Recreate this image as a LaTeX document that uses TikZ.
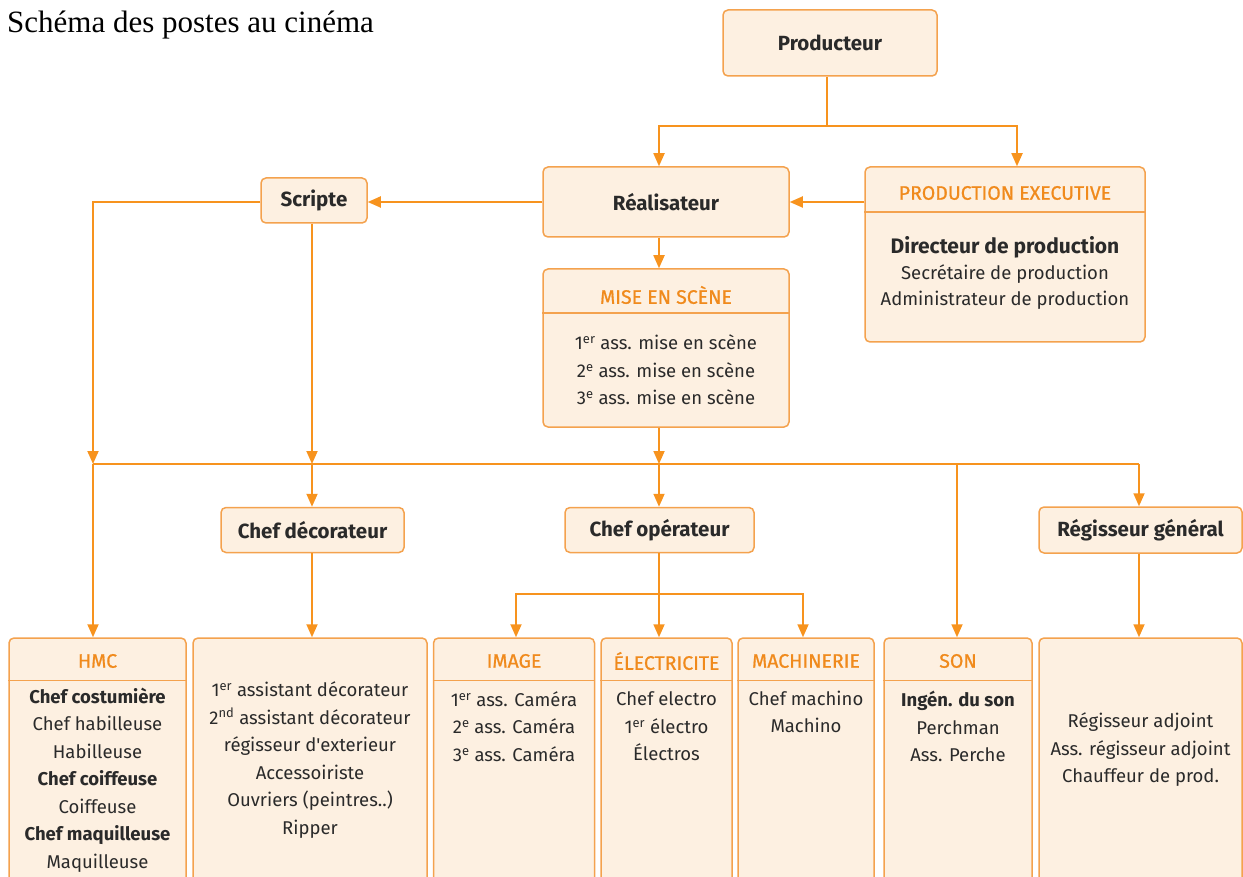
\documentclass[tikz,border=0pt]{standalone}
\usepackage{fontspec}
\setmainfont{Liberation Serif}
\newfontfamily\boxfont{Fira Sans}
\newfontfamily\hdrfont[FakeBold=0.8]{Fira Sans}
\usetikzlibrary{arrows.meta,calc}
\definecolor{ln}{HTML}{F7931E}
\definecolor{bd}{HTML}{F4A24E}
\definecolor{fl}{HTML}{FDF0E1}
\definecolor{hd}{HTML}{F08A1C}
\definecolor{tx}{HTML}{2A2A2A}
\tikzset{
  box/.style={draw=bd, fill=fl, rounded corners=5pt, line width=1.5pt, inner sep=0pt},
  conn/.style={draw=ln, line width=1.8pt},
  arr/.style={conn, -{Triangle[length=13pt,width=11pt]}},
  sepline/.style={draw=bd, line width=1.5pt},
  hdr/.style={text=hd, font=\hdrfont\fontsize{19.5}{22}\selectfont, inner sep=0pt},
  lst/.style={text=tx, font=\boxfont\fontsize{18.5}{27.5}\selectfont, align=center, inner sep=0pt},
  ttl/.style={text=tx, font=\boxfont\bfseries\fontsize{20.5}{24}\selectfont},
}
\begin{document}
\begin{tikzpicture}[x=1pt,y=-1pt]
\useasboundingbox (0,0) rectangle (1243,877);
\clip (0,0) rectangle (1243,877);
\node[anchor=base west, inner sep=0pt, font=\fontsize{31}{36}\selectfont] (title) at (7,33) {Schéma des postes au cinéma};

% top boxes
\node[box, ttl, minimum width=214pt, minimum height=66pt] (prod) at (830,43) {Producteur};
\node[box, ttl, minimum width=246pt, minimum height=70pt] (real) at (666,202) {Réalisateur};
\node[box, ttl, minimum width=106pt, minimum height=45pt] (scr) at (314,200.5) {Scripte};
\node[box, minimum width=280pt, minimum height=175pt] (pe) at (1005,254.5) {};
\node[box, minimum width=246pt, minimum height=158pt] (mes) at (666,348) {};
\node[box, ttl, minimum width=183pt, minimum height=45pt] (chefdec) at (312.5,530) {Chef décorateur};
\node[box, ttl, minimum width=189pt, minimum height=45pt] (chefop) at (659.5,530) {Chef opérateur};
\node[box, ttl, minimum width=203pt, minimum height=46pt] (reggen) at (1140.5,530) {Régisseur général};

% bottom boxes
\node[box, minimum width=177pt, minimum height=260pt] (hmc) at (97.5,768) {};
\node[box, minimum width=234pt, minimum height=260pt] (deco) at (310,768) {};
\node[box, minimum width=161pt, minimum height=260pt] (image) at (514,768) {};
\node[box, minimum width=131pt, minimum height=260pt] (elec) at (666.5,768) {};
\node[box, minimum width=136pt, minimum height=260pt] (mach) at (806,768) {};
\node[box, minimum width=148pt, minimum height=260pt] (son) at (958,768) {};
\node[box, minimum width=203pt, minimum height=260pt] (reg) at (1140.5,768) {};

% header separators
\draw[sepline] ($(pe.north west)+(0,46)$) -- ($(pe.north east)+(0,46)$);
\draw[sepline] ($(mes.north west)+(0,45)$) -- ($(mes.north east)+(0,45)$);
\foreach \b in {hmc,image,elec,mach,son}
  \draw[sepline] ($(\b.north west)+(0,43)$) -- ($(\b.north east)+(0,43)$);

% headers
\node[hdr] (pe-h) at (1005,193) {PRODUCTION EXECUTIVE};
\node[hdr] (mes-h) at (666,295) {MISE EN SCÈNE};
\node[hdr] (hmc-h) at (97.5,661) {HMC};
\node[hdr] (image-h) at (514,661) {IMAGE};
\node[hdr] (elec-h) at (666.5,661) {ÉLECTRICITE};
\node[hdr] (mach-h) at (806,661) {MACHINERIE};
\node[hdr] (son-h) at (958,661) {SON};

% lists
\node[lst] (pe-t) at (1005,273) {{\bfseries\fontsize{21}{24}\selectfont Directeur de production}\\[-2pt]Secrétaire de production\\[-1pt]Administrateur de production};
\node[lst] (mes-t) at (666,370) {1\textsuperscript{er} ass. mise en scène\\2\textsuperscript{e} ass. mise en scène\\3\textsuperscript{e} ass. mise en scène};
\node[lst] (hmc-t) at (97.5,780) {\textbf{Chef costumière}\\Chef habilleuse\\Habilleuse\\\textbf{Chef coiffeuse}\\Coiffeuse\\\textbf{Chef maquilleuse}\\Maquilleuse};
\node[lst] (deco-t) at (310,760) {1\textsuperscript{er} assistant décorateur\\2\textsuperscript{nd} assistant décorateur\\régisseur d'exterieur\\Accessoiriste\\Ouvriers (peintres..)\\Ripper};
\node[lst] (image-t) at (514,726.5) {1\textsuperscript{er} ass. Caméra\\2\textsuperscript{e} ass. Caméra\\3\textsuperscript{e} ass. Caméra};
\node[lst] (elec-t) at (666.5,726.5) {Chef electro\\1\textsuperscript{er} électro\\Électros};
\node[lst] (mach-t) at (806,712) {Chef machino\\Machino};
\node[lst] (son-t) at (958,726.5) {\textbf{Ingén. du son}\\Perchman\\Ass. Perche};
\node[lst] (reg-t) at (1140.5,750) {Régisseur adjoint\\Ass. régisseur adjoint\\Chauffeur de prod.};

% junction coordinates
\coordinate (p1) at (827,126);
\coordinate (cx) at (659,0);
\coordinate (xP) at (1017,0);
\coordinate (bL) at (93,464);
\coordinate (bS) at (312,464);
\coordinate (bM) at (659,464);
\coordinate (bN) at (957,464);
\coordinate (bR) at (1139,464);
\coordinate (o1) at (659,594);
\coordinate (xI) at (516,0);
\coordinate (xE) at (659,0);
\coordinate (xM) at (803,0);

% connectors
\draw[conn] (prod.south -| p1) -- (p1);
\draw[arr] (p1) -| (real.north -| cx);
\draw[arr] (p1) -| (pe.north -| xP);
\draw[arr] (pe.west |- real.west) -- (real.east);
\draw[arr] (real.west) -- (scr.east |- real.west);
\draw[arr] (scr.west |- real.west) -| (bL);
\draw[arr] (bL) -- (hmc.north -| bL);
\draw[arr] (scr.south -| bS) -- (bS);
\draw[arr] (bS) -- (chefdec.north -| bS);
\draw[arr] (real.south -| cx) -- (mes.north -| cx);
\draw[arr] (mes.south -| bM) -- (bM);
\draw[arr] (bM) -- (chefop.north -| bM);
\draw[conn] (bL) -- (bR);
\draw[arr] (bN) -- (son.north -| bN);
\draw[arr] (bR) -- (reggen.north -| bR);
\draw[arr] (chefdec.south -| bS) -- (deco.north -| bS);
\draw[arr] (reggen.south -| bR) -- (reg.north -| bR);
\draw[conn] (chefop.south -| o1) -- (o1);
\draw[arr] (o1) -| (image.north -| xI);
\draw[arr] (o1) -| (mach.north -| xM);
\draw[arr] (o1) -- (elec.north -| xE);
\end{tikzpicture}
\end{document}
